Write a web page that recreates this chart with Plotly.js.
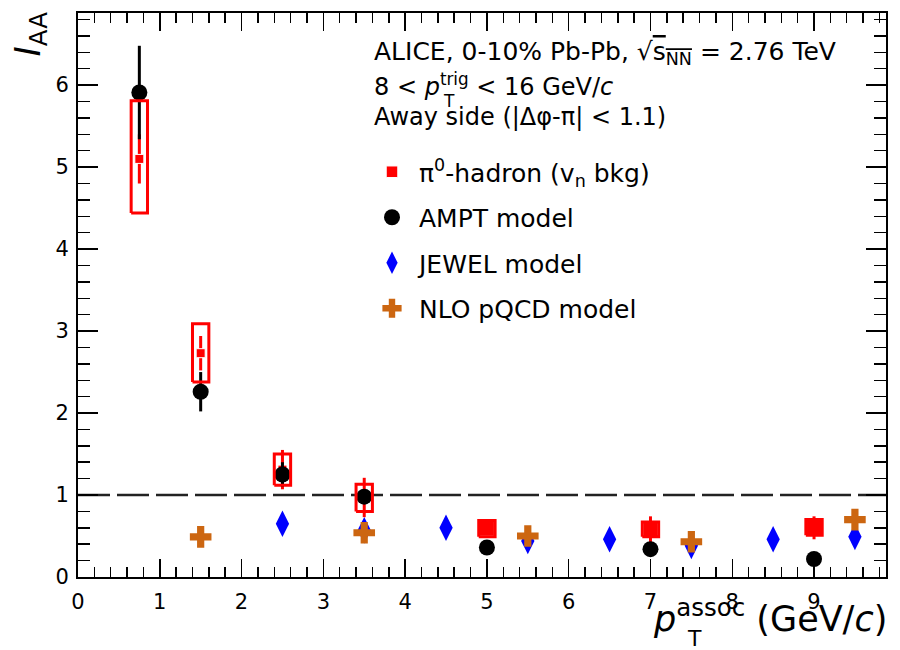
<!DOCTYPE html>
<html><head><meta charset="utf-8">
<script src="https://cdn.plot.ly/plotly-3.0.1.min.js"></script>
<style>html,body{margin:0;padding:0;background:#fff}</style>
</head><body>
<div id="chart" style="width:900px;height:650px"></div>
<script>
// ---------- data ----------
const seriesNames = ['π<sup>0</sup>-hadron (v<sub>n</sub> bkg)', 'AMPT model', 'JEWEL model', 'NLO pQCD model'];

const pi0_pt     = [0.75, 1.5, 2.5, 3.5, 5, 7, 9];
const pi0_iaa    = [5.10, 2.73, 1.31, 0.97, 0.59, 0.58, 0.60];
const pi0_stat   = [0.30, 0.21, 0.24, 0.24, 0.08, 0.16, 0.14];
const pi0_sys_lo = [4.44, 2.38, 1.12, 0.80, 0.49, 0.49, 0.51];
const pi0_sys_hi = [5.81, 3.09, 1.50, 1.13, 0.69, 0.67, 0.70];

const ampt_pt  = [0.75, 1.5, 2.5, 3.5, 5, 7, 9];
const ampt_iaa = [5.91, 2.26, 1.25, 0.98, 0.36, 0.34, 0.22];
const ampt_err = [0.57, 0.24, 0.15, 0.06, 0.02, 0.02, 0.02];

const jewel_pt  = [2.5, 3.5, 4.5, 5.5, 6.5, 7.5, 8.5, 9.5];
const jewel_iaa = [0.65, 0.57, 0.60, 0.44, 0.46, 0.38, 0.46, 0.49];

const nlo_pt  = [1.5, 3.5, 5.5, 7.5, 9.5];
const nlo_iaa = [0.49, 0.54, 0.50, 0.43, 0.70];

const xTickVals = [0, 1, 2, 3, 4, 5, 6, 7, 8, 9];
const xTickText = ['0', '1', '2', '3', '4', '5', '6', '7', '8', '9'];
const yTickVals = [0, 1, 2, 3, 4, 5, 6];
const yTickText = ['0', '1', '2', '3', '4', '5', '6'];
const refLine = 1;

// ---------- styling ----------
const FONT = 'DejaVu Sans, sans-serif';
const RED = '#ff0000', BLUE = '#0000ff', ORANGE = '#cc6611', BLACK = '#000000';
const BOX_HALF = 0.10;
const L = 78, R = 886, T = 13, B = 577;
const px2x = p => (p - L) / (R - L);
const py2y = p => (B - p) / (B - T);

// marker size: small inside the tall low-pT boxes, filling the flat high-pT boxes
const pi0_msize = pi0_pt.map((x, i) => (pi0_sys_hi[i] - pi0_sys_lo[i] < 0.3 ? 15 : 9));

// systematic boxes built from the data arrays
const boxX = [], boxY = [];
pi0_pt.forEach((x, i) => {
  boxX.push(x - BOX_HALF, x + BOX_HALF, x + BOX_HALF, x - BOX_HALF, x - BOX_HALF, null);
  boxY.push(pi0_sys_lo[i], pi0_sys_lo[i], pi0_sys_hi[i], pi0_sys_hi[i], pi0_sys_lo[i], null);
});

const traces = [
  { x: jewel_pt, y: jewel_iaa, type: 'scatter', mode: 'markers', name: seriesNames[2],
    legendgroup: 'g3', legendrank: 3,
    marker: { symbol: 'diamond-tall', size: 19, color: BLUE, opacity: 1 } },
  { x: nlo_pt, y: nlo_iaa, type: 'scatter', mode: 'markers', name: seriesNames[3],
    legendgroup: 'g4', legendrank: 4,
    marker: { symbol: 'cross', size: 18, color: ORANGE, opacity: 1 } },
  { x: pi0_pt, y: pi0_iaa, type: 'scatter', mode: 'markers', name: seriesNames[0],
    legendgroup: 'g1', legendrank: 1,
    marker: { symbol: 'square', size: pi0_msize, color: RED, opacity: 1 },
    error_y: { type: 'data', array: pi0_stat, color: RED, thickness: 3, width: 0 } },
  { x: ampt_pt, y: ampt_iaa, type: 'scatter', mode: 'markers', name: seriesNames[1],
    legendgroup: 'g2', legendrank: 2,
    marker: { symbol: 'circle', size: 16, color: BLACK, opacity: 1 },
    error_y: { type: 'data', array: ampt_err, color: BLACK, thickness: 3, width: 0 } },
  { x: boxX, y: boxY, type: 'scatter', mode: 'lines', showlegend: false, hoverinfo: 'skip',
    line: { color: RED, width: 3 } }
];

const axisCommon = {
  ticks: 'inside', tickcolor: BLACK, tickwidth: 1.5,
  showline: true, linewidth: 2, linecolor: BLACK, mirror: 'allticks',
  showgrid: false, zeroline: false, tickfont: { family: FONT, size: 21, color: BLACK }
};

const layout = {
  width: 900, height: 650,
  margin: { l: L, r: 900 - R, t: T, b: 650 - B },
  paper_bgcolor: '#ffffff', plot_bgcolor: '#ffffff',
  font: { family: FONT, color: BLACK, size: 21 },
  showlegend: true,
  legend: { x: px2x(365), y: py2y(149), xanchor: 'left', yanchor: 'top',
            bgcolor: 'rgba(0,0,0,0)', font: { family: FONT, size: 25, color: BLACK },
            tracegroupgap: 10, itemwidth: 44 },
  xaxis: Object.assign({}, axisCommon, {
    range: [0, 9.88], tickmode: 'array', tickvals: xTickVals, ticktext: xTickText,
    ticklen: 18, ticklabelstandoff: 5,
    minor: { tickmode: 'linear', tick0: 0, dtick: 0.2, ticks: 'inside', ticklen: 10, tickwidth: 1.5, tickcolor: BLACK, showgrid: false }
  }),
  yaxis: Object.assign({}, axisCommon, {
    range: [0, 6.88], tickmode: 'array', tickvals: yTickVals, ticktext: yTickText,
    ticklen: 20, ticklabelstandoff: 3,
    minor: { tickmode: 'linear', tick0: 0, dtick: 0.2, ticks: 'inside', ticklen: 12, tickwidth: 1.5, tickcolor: BLACK, showgrid: false }
  }),
  shapes: [
    { type: 'line', layer: 'below', xref: 'paper', x0: 0, x1: 1, yref: 'y', y0: refLine, y1: refLine,
      line: { color: '#222222', width: 2.5, dash: '32px,7px' } }
  ],
  annotations: [
    { xref: 'paper', yref: 'paper', x: px2x(372), y: py2y(53), xanchor: 'left', yanchor: 'middle', showarrow: false,
      font: { family: FONT, size: 25, color: BLACK },
      text: 'ALICE, 0-10% Pb-Pb, √<span style="text-decoration:overline">s<sub>NN</sub></span> = 2.76 TeV' },
    { xref: 'paper', yref: 'paper', x: px2x(372), y: py2y(85), xanchor: 'left', yanchor: 'middle', showarrow: false,
      font: { family: FONT, size: 24, color: BLACK },
      text: '8 < <i>p</i><sup>trig</sup> < 16 GeV/<i>c</i>' },
    { xref: 'paper', yref: 'paper', x: px2x(441), y: py2y(101), xanchor: 'left', yanchor: 'middle', showarrow: false,
      font: { family: FONT, size: 17, color: BLACK }, text: 'T' },
    { xref: 'paper', yref: 'paper', x: px2x(372), y: py2y(117), xanchor: 'left', yanchor: 'middle', showarrow: false,
      font: { family: FONT, size: 24, color: BLACK },
      text: 'Away side (|Δφ-π| < 1.1)' },
    { xref: 'paper', yref: 'paper', x: px2x(30), y: py2y(10), xanchor: 'center', yanchor: 'top', showarrow: false,
      textangle: -90, font: { family: FONT, size: 35, color: BLACK },
      text: '<i>I</i><sub>AA</sub>' },
    { xref: 'paper', yref: 'paper', x: px2x(889), y: py2y(616), xanchor: 'right', yanchor: 'middle', showarrow: false,
      font: { family: FONT, size: 35, color: BLACK },
      text: '<i>p</i><sup>assoc</sup> (GeV/<i>c</i>)' },
    { xref: 'paper', yref: 'paper', x: px2x(694), y: py2y(638), xanchor: 'center', yanchor: 'middle', showarrow: false,
      font: { family: FONT, size: 22, color: BLACK }, text: 'T' }
  ]
};

Plotly.newPlot('chart', traces, layout, { displayModeBar: false, staticPlot: true });
</script>
</body></html>
